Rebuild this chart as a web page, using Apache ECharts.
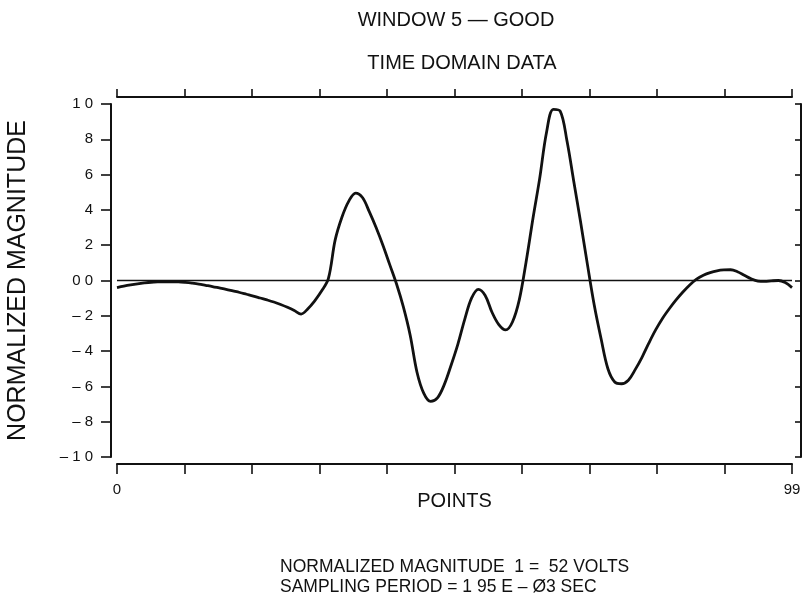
<!DOCTYPE html>
<html>
<head>
<meta charset="utf-8">
<script src="https://cdn.jsdelivr.net/npm/echarts@6/dist/echarts.min.js"></script>
<style>
  html, body { margin: 0; padding: 0; background: #fff; }
  #chart { width: 806px; height: 601px; }
</style>
</head>
<body>
<div id="chart"></div>
<script>
// Normalized magnitude of each sample point (0 … 99)
const magnitude = [
  -0.040, -0.032, -0.025, -0.019, -0.014, -0.010, -0.008, -0.007, -0.007, -0.008,
  -0.011, -0.015, -0.020, -0.027, -0.034, -0.042, -0.050, -0.059, -0.068, -0.078,
  -0.088, -0.099, -0.110, -0.122, -0.136, -0.152, -0.170, -0.190, -0.160, -0.115,
  -0.060,  0.010,  0.230,  0.360,  0.450,  0.495,  0.470,  0.390,  0.300,  0.200,
   0.090, -0.020, -0.150, -0.310, -0.520, -0.640, -0.685, -0.665, -0.590, -0.480,
  -0.360, -0.220, -0.100, -0.050, -0.085, -0.180, -0.250, -0.280, -0.235, -0.110,
   0.105,  0.350,  0.580,  0.840,  0.970,  0.960,  0.790,  0.560,  0.330,  0.090,
  -0.140, -0.330, -0.500, -0.575, -0.585, -0.565, -0.505, -0.435, -0.355, -0.280,
  -0.215, -0.160, -0.110, -0.065, -0.025,  0.008,  0.030,  0.045,  0.055,  0.060,
   0.061,  0.050,  0.030,  0.010, -0.003, -0.005, -0.002,  0.000, -0.012, -0.040
];

// Tick labels as printed on the axes
const yTickValues = [-1.0, -0.8, -0.6, -0.4, -0.2, 0.0, 0.2, 0.4, 0.6, 0.8, 1.0];
const yTickLabels = ['\u2013 1 0', '\u2013 8', '\u2013 6', '\u2013 4', '\u2013 2', '0 0', '2', '4', '6', '8', '1 0'];
const xTickValues = [0, 99];
const xTickLabels = ['0', '99'];

const titleLines = ['WINDOW 5 \u2014 GOOD', 'TIME DOMAIN DATA'];
const footLines = ['NORMALIZED MAGNITUDE  1 =  52 VOLTS', 'SAMPLING PERIOD = 1 95 E \u2013 \u00D83 SEC'];

const seriesData = magnitude.map((v, i) => [i, v]);

const FONT = '"Liberation Sans", Arial, Helvetica, sans-serif';
const INK = '#111';

function yLabel(v) {
  const k = yTickValues.findIndex(t => Math.abs(t - v) < 1e-6);
  return k >= 0 ? yTickLabels[k] : '';
}
function xLabel(v) {
  const k = xTickValues.findIndex(t => Math.abs(t - v) < 1e-6);
  return k >= 0 ? xTickLabels[k] : '';
}

const chart = echarts.init(document.getElementById('chart'), null, { renderer: 'canvas' });

chart.setOption({
  backgroundColor: '#fff',
  animation: false,
  grid: { left: 117, right: 14, top: 104, bottom: 144, outerBoundsMode: 'none' },
  xAxis: [
    {
      type: 'value', position: 'bottom', min: 0, max: 99, interval: 9.9, offset: 7,
      axisLine: { onZero: false, lineStyle: { color: INK, width: 2 } },
      axisTick: { inside: false, length: 10, lineStyle: { color: INK, width: 1.6 } },
      axisLabel: { formatter: xLabel, color: INK, fontFamily: FONT, fontSize: 15, margin: 18 },
      splitLine: { show: false },
      name: 'POINTS', nameLocation: 'middle', nameGap: 27, nameMoveOverlap: false,
      nameTextStyle: { color: INK, fontFamily: FONT, fontSize: 20 }
    },
    {
      type: 'value', position: 'top', min: 0, max: 99, interval: 9.9, offset: 7,
      axisLine: { onZero: false, lineStyle: { color: INK, width: 2 } },
      axisTick: { inside: false, length: 8, lineStyle: { color: INK, width: 1.6 } },
      axisLabel: { show: false },
      splitLine: { show: false }
    }
  ],
  yAxis: [
    {
      type: 'value', position: 'left', min: -1, max: 1, interval: 0.2, offset: 6,
      axisLine: { onZero: false, lineStyle: { color: INK, width: 2 } },
      axisTick: { inside: false, length: 10, lineStyle: { color: INK, width: 1.6 } },
      axisLabel: { formatter: yLabel, color: INK, fontFamily: FONT, fontSize: 15, margin: 18 },
      splitLine: { show: false },
      name: 'NORMALIZED MAGNITUDE', nameLocation: 'middle', nameGap: 80, nameRotate: 90, nameMoveOverlap: false,
      nameTextStyle: { color: INK, fontFamily: FONT, fontSize: 25 }
    },
    {
      type: 'value', position: 'right', min: -1, max: 1, interval: 0.2, offset: 9,
      axisLine: { onZero: false, lineStyle: { color: INK, width: 2 } },
      axisTick: { inside: true, length: 6, lineStyle: { color: INK, width: 1.6 } },
      axisLabel: { show: false },
      splitLine: { show: false }
    }
  ],
  series: [
    {
      type: 'line',
      xAxisIndex: 0, yAxisIndex: 0,
      data: seriesData,
      smooth: 0.35,
      showSymbol: false,
      lineStyle: { color: INK, width: 2.8 },
      markLine: {
        silent: true,
        symbol: ['none', 'none'],
        label: { show: false },
        lineStyle: { color: INK, width: 1.3, type: 'solid' },
        data: [{ yAxis: 0 }]
      }
    }
  ],
  graphic: [
    { type: 'text', x: 456, y: 10, style: { text: titleLines[0], font: '20px ' + FONT, fill: INK, textAlign: 'center', textVerticalAlign: 'top' } },
    { type: 'text', x: 462, y: 53, style: { text: titleLines[1], font: '20px ' + FONT, fill: INK, textAlign: 'center', textVerticalAlign: 'top' } },
    { type: 'text', x: 280, y: 558, style: { text: footLines[0], font: '17.5px ' + FONT, fill: INK, textAlign: 'left', textVerticalAlign: 'top' } },
    { type: 'text', x: 280, y: 578, style: { text: footLines[1], font: '17.5px ' + FONT, fill: INK, textAlign: 'left', textVerticalAlign: 'top' } }
  ]
});
</script>
</body>
</html>
